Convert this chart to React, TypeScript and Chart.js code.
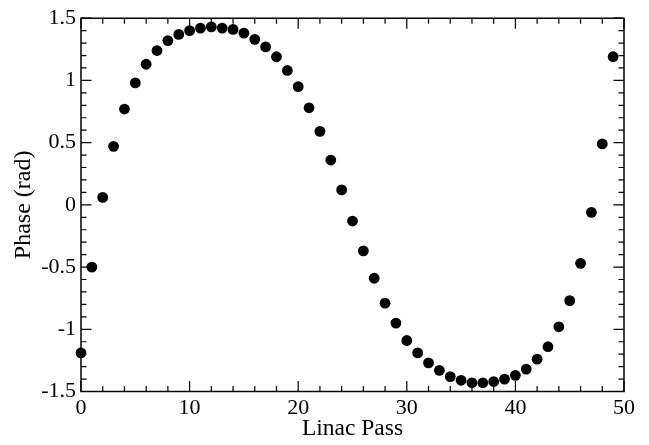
import React, { useEffect, useRef } from 'react';
import { Chart, registerables } from 'chart.js';

Chart.register(...registerables);

const passes: number[] = [
  0, 1, 2, 3, 4, 5, 6, 7, 8, 9, 10, 11, 12, 13, 14, 15, 16, 17, 18, 19, 20, 21, 22, 23, 24,
  25, 26, 27, 28, 29, 30, 31, 32, 33, 34, 35, 36, 37, 38, 39, 40, 41, 42, 43, 44, 45, 46, 47, 48, 49,
];

const phase: number[] = [
  -1.19, -0.5, 0.06, 0.47, 0.77, 0.98, 1.13, 1.24, 1.32, 1.37,
  1.4, 1.42, 1.43, 1.42, 1.41, 1.38, 1.33, 1.27, 1.19, 1.08,
  0.95, 0.78, 0.59, 0.36, 0.12, -0.13, -0.37, -0.59, -0.79, -0.95,
  -1.09, -1.19, -1.27, -1.33, -1.38, -1.41, -1.43, -1.43, -1.42, -1.4,
  -1.37, -1.32, -1.24, -1.14, -0.98, -0.77, -0.47, -0.06, 0.49, 1.19,
];

const xMajorTicks: number[] = [0, 10, 20, 30, 40, 50];
const xMinorTicks: number[] = [2, 4, 6, 8, 12, 14, 16, 18, 22, 24, 26, 28, 32, 34, 36, 38, 42, 44, 46, 48];
const yMajorTicks: number[] = [-1.5, -1, -0.5, 0, 0.5, 1, 1.5];
const yMinorTicks: number[] = [
  -1.4, -1.3, -1.2, -1.1, -0.9, -0.8, -0.7, -0.6, -0.4, -0.3, -0.2, -0.1,
  0.1, 0.2, 0.3, 0.4, 0.6, 0.7, 0.8, 0.9, 1.1, 1.2, 1.3, 1.4,
];

const xTitle = 'Linac Pass';
const yTitle = 'Phase (rad)';

const FONT = "'Liberation Serif', 'Times New Roman', serif";

const framePlugin = {
  id: 'frame',
  beforeDatasetsDraw(chart: any) {
    const { ctx, chartArea } = chart;
    const { left, right, top, bottom } = chartArea;
    const xs = chart.scales.x;
    const ys = chart.scales.y;
    const MAJ = 10.5;
    const MIN = 5.5;
    ctx.save();
    ctx.strokeStyle = '#000';
    ctx.lineWidth = 1.5;
    ctx.beginPath();
    ctx.rect(left, top, right - left, bottom - top);
    ctx.stroke();
    ctx.lineWidth = 1.2;
    ctx.beginPath();
    const xt = (vals: number[], len: number) => {
      vals.forEach((v) => {
        const px = xs.getPixelForValue(v);
        ctx.moveTo(px, bottom);
        ctx.lineTo(px, bottom - len);
        ctx.moveTo(px, top);
        ctx.lineTo(px, top + len);
      });
    };
    const yt = (vals: number[], len: number) => {
      vals.forEach((v) => {
        const py = ys.getPixelForValue(v);
        ctx.moveTo(left, py);
        ctx.lineTo(left + len, py);
        ctx.moveTo(right, py);
        ctx.lineTo(right - len, py);
      });
    };
    xt(xMajorTicks, MAJ);
    xt(xMinorTicks, MIN);
    yt(yMajorTicks, MAJ);
    yt(yMinorTicks, MIN);
    ctx.stroke();
    ctx.restore();
  },
};

export default function App() {
  const canvasRef = useRef<HTMLCanvasElement | null>(null);

  useEffect(() => {
    if (!canvasRef.current) return;
    Chart.defaults.color = '#000';
    const chart = new Chart(canvasRef.current, {
      type: 'scatter',
      data: {
        datasets: [
          {
            data: passes.map((p, i) => ({ x: p, y: phase[i] })),
            backgroundColor: '#000',
            borderColor: '#000',
            borderWidth: 0,
            pointRadius: 5.4,
            pointHoverRadius: 5.4,
            showLine: false,
            clip: false as any,
          },
        ],
      },
      options: {
        responsive: false,
        animation: false,
        layout: { padding: { top: 12, right: 25, left: 0, bottom: 0 } },
        plugins: {
          legend: { display: false },
          tooltip: { enabled: false },
        },
        scales: {
          x: {
            type: 'linear',
            min: 0,
            max: 50,
            grid: { display: false, drawTicks: false },
            border: { display: false },
            afterBuildTicks: (scale: any) => {
              scale.ticks = xMajorTicks.map((v) => ({ value: v }));
            },
            afterFit: (scale: any) => {
              scale.height = 53.5;
            },
            ticks: {
              padding: 4,
              color: '#000',
              font: { family: FONT, size: 22 },
              callback: (v: any) => String(v),
            },
            title: {
              display: true,
              text: xTitle,
              color: '#000',
              font: { family: FONT, size: 23.5 },
              padding: { top: 0, bottom: 2 },
            },
          },
          y: {
            type: 'linear',
            min: -1.5,
            max: 1.5,
            grid: { display: false, drawTicks: false },
            border: { display: false },
            afterBuildTicks: (scale: any) => {
              scale.ticks = yMajorTicks.map((v) => ({ value: v }));
            },
            afterFit: (scale: any) => {
              scale.width = 81;
            },
            ticks: {
              padding: 5,
              color: '#000',
              font: { family: FONT, size: 22 },
              callback: (v: any) => String(v),
            },
            title: {
              display: true,
              text: yTitle,
              color: '#000',
              font: { family: FONT, size: 24 },
              padding: { top: 9.5, bottom: 0 },
            },
          },
        },
      },
      plugins: [framePlugin],
    });
    return () => chart.destroy();
  }, []);

  return (
    <div style={{ position: 'fixed', left: 0, top: 0, width: 649, height: 445, background: '#fff' }}>
      <canvas ref={canvasRef} width={649} height={445} style={{ width: 649, height: 445 }} />
    </div>
  );
}
